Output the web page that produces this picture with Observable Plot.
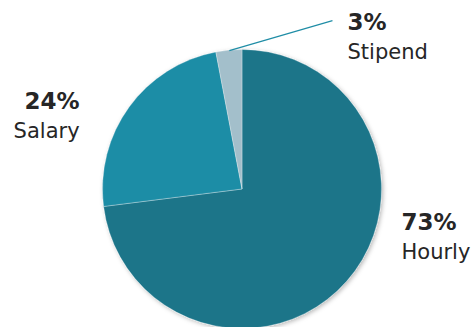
<!DOCTYPE html>
<html><head><meta charset="utf-8">
<script src="https://cdn.jsdelivr.net/npm/d3@7"></script>
<script src="https://cdn.jsdelivr.net/npm/@observablehq/plot@0.6"></script>
<style>body{margin:0;background:#fff}#chart svg{display:block}</style>
</head><body><div id="chart"></div>
<script>
// ---- data ----
const categories = ["Hourly", "Salary", "Stipend"];
const shares = [73, 24, 3];
const percentLabels = ["73%", "24%", "3%"];

// ---- styling / layout (unit = pie radius) ----
const colors = ["#1a7489", "#1f8da6", "#a3bfcb"];
const labelX = [1.14, -1.168, 0.753];
const labelY = [-0.29, 0.575, 1.14];
const labelAnchor = ["start", "end", "start"];
const leaderEnd = {x: 0.645, y: 1.211};

const W = 473, H = 327, R = 139.5, CX = 242, CY = 189;

const pie = d3.pie().sort(null).value(d => d.value).startAngle(0).endAngle(2 * Math.PI);
const rows = categories.map((c, i) => ({category: c, value: shares[i], pct: percentLabels[i], color: colors[i],
  lx: labelX[i], ly: labelY[i], anchor: labelAnchor[i]}));
const arcs = pie(rows);

function pieMark(index, scales) {
  const x = scales.x, y = scales.y;
  const cx = x(0), cy = y(0), r = x(1) - x(0);
  const g = d3.create("svg:g");
  const defs = g.append("defs");
  const f = defs.append("filter").attr("id", "pieShadow").attr("x", "-10%").attr("y", "-10%").attr("width", "120%").attr("height", "120%");
  f.append("feDropShadow").attr("dx", 1.5).attr("dy", 1.5).attr("stdDeviation", 2).attr("flood-color", "#000").attr("flood-opacity", 0.28);
  const arc = d3.arc().innerRadius(0).outerRadius(r);
  const pg = g.append("g").attr("transform", `translate(${cx},${cy})`).attr("filter", "url(#pieShadow)");
  pg.selectAll("path").data(arcs).join("path")
    .attr("d", arc)
    .attr("fill", d => d.data.color)
    .attr("stroke", "#fff")
    .attr("stroke-width", 0.5)
    .attr("stroke-opacity", 0.6);
  return g.node();
}

// leader for the small slice: from its outer arc midpoint to near the label
const st = arcs[2];
const mid = (st.startAngle + st.endAngle) / 2;
const leader = [{x1: Math.sin(mid), y1: Math.cos(mid), x2: leaderEnd.x, y2: leaderEnd.y}];

const textMarks = [];
rows.forEach(d => {
  textMarks.push(Plot.text([d], {x: "lx", y: "ly", text: "pct", textAnchor: d.anchor, lineAnchor: "bottom",
    fontSize: 23, fontWeight: "bold", fill: "#262626"}));
  textMarks.push(Plot.text([d], {x: "lx", y: "ly", text: "category", textAnchor: d.anchor, lineAnchor: "bottom",
    dy: 29, fontSize: 21, fill: "#262626"}));
});

const chart = Plot.plot({
  width: W, height: H,
  margin: 0,
  style: {fontFamily: "'DejaVu Sans', sans-serif", background: "#fff", overflow: "visible"},
  x: {domain: [-CX / R, (W - CX) / R], axis: null},
  y: {domain: [-(H - CY) / R, CY / R], axis: null},
  marks: [
    pieMark,
    Plot.link(leader, {x1: "x1", y1: "y1", x2: "x2", y2: "y2", stroke: "#1f8da6", strokeWidth: 1.2}),
    ...textMarks
  ]
});
document.getElementById("chart").append(chart);
</script>
</body></html>
